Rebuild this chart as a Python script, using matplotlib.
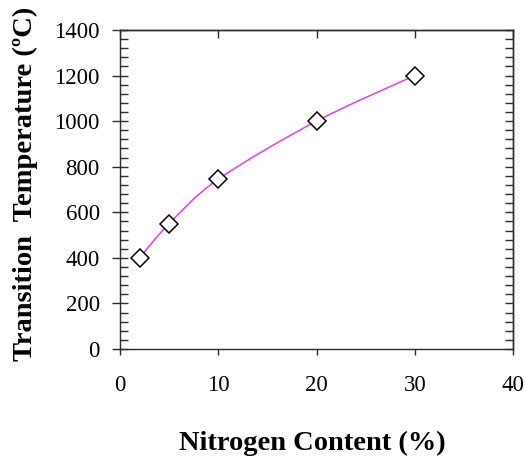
import matplotlib.pyplot as plt
from matplotlib.path import Path
from matplotlib.patches import PathPatch
from matplotlib.ticker import MultipleLocator

nitrogen = [2, 5, 10, 20, 30]
temperature = [400, 550, 745, 1000, 1200]

plt.rcParams['font.family'] = 'Liberation Serif'

fig = plt.figure(figsize=(5.26, 4.58), dpi=100)
ax = fig.add_axes([120 / 526, 1 - 349 / 458, 393 / 526, 319 / 458])


def smooth_path(xs, ys, k=1 / 6):
    # Catmull-Rom style bezier through the data points
    verts = [(xs[0], ys[0])]
    codes = [Path.MOVETO]
    n = len(xs)
    for i in range(n - 1):
        x0, y0 = (xs[i - 1], ys[i - 1]) if i > 0 else (xs[i], ys[i])
        x1, y1 = xs[i], ys[i]
        x2, y2 = xs[i + 1], ys[i + 1]
        x3, y3 = (xs[i + 2], ys[i + 2]) if i + 2 < n else (x2, y2)
        c1 = (x1 + (x2 - x0) * k, y1 + (y2 - y0) * k)
        c2 = (x2 - (x3 - x1) * k, y2 - (y3 - y1) * k)
        verts += [c1, c2, (x2, y2)]
        codes += [Path.CURVE4] * 3
    return Path(verts, codes)


ax.add_patch(PathPatch(smooth_path(nitrogen, temperature), facecolor='none',
                       edgecolor='#e23fe2', lw=1.1, zorder=2))
ax.plot(nitrogen, temperature, linestyle='none', marker='D', ms=9.5,
        mfc='white', mec='black', mew=1.1, zorder=3)

ax.set_xlim(0, 40)
ax.set_ylim(0, 1400)
ax.xaxis.set_major_locator(MultipleLocator(10))
ax.yaxis.set_major_locator(MultipleLocator(200))
ax.yaxis.set_minor_locator(MultipleLocator(40))

for side in ax.spines.values():
    side.set_linewidth(1.0)
    side.set_color('#2a2a2a')

ax.tick_params(axis='x', which='major', direction='out', length=4.5,
               labelsize=16.5, pad=14, width=1.0, color='#2a2a2a')
ax.tick_params(axis='y', which='major', direction='inout', length=11,
               labelsize=16.5, pad=9, width=1.0, color='#2a2a2a')
ax.tick_params(axis='y', which='minor', direction='in', length=6,
               width=1.0, color='#2a2a2a')

# top and right ticks point inward
top = ax.secondary_xaxis('top')
top.xaxis.set_major_locator(MultipleLocator(10))
top.tick_params(direction='in', length=6, width=1.0, labeltop=False,
                color='#2a2a2a')
right = ax.secondary_yaxis('right')
right.yaxis.set_major_locator(MultipleLocator(40))
right.tick_params(direction='in', length=6, width=1.0, labelright=False,
                  color='#2a2a2a')
for sec in (top, right):
    for side in sec.spines.values():
        side.set_linewidth(1.0)
        side.set_color('#2a2a2a')

fig.text(312 / 526, 1 - 450 / 458, 'Nitrogen Content (%)', fontsize=20.5,
         fontweight='bold', ha='center', va='baseline')
fig.text(25 / 526, 1 - 184 / 458, 'Transition  Temperature (ºC)',
         fontsize=20.5, fontweight='bold', ha='center', va='center',
         rotation=90)

fig.savefig('out.png', dpi=100)
